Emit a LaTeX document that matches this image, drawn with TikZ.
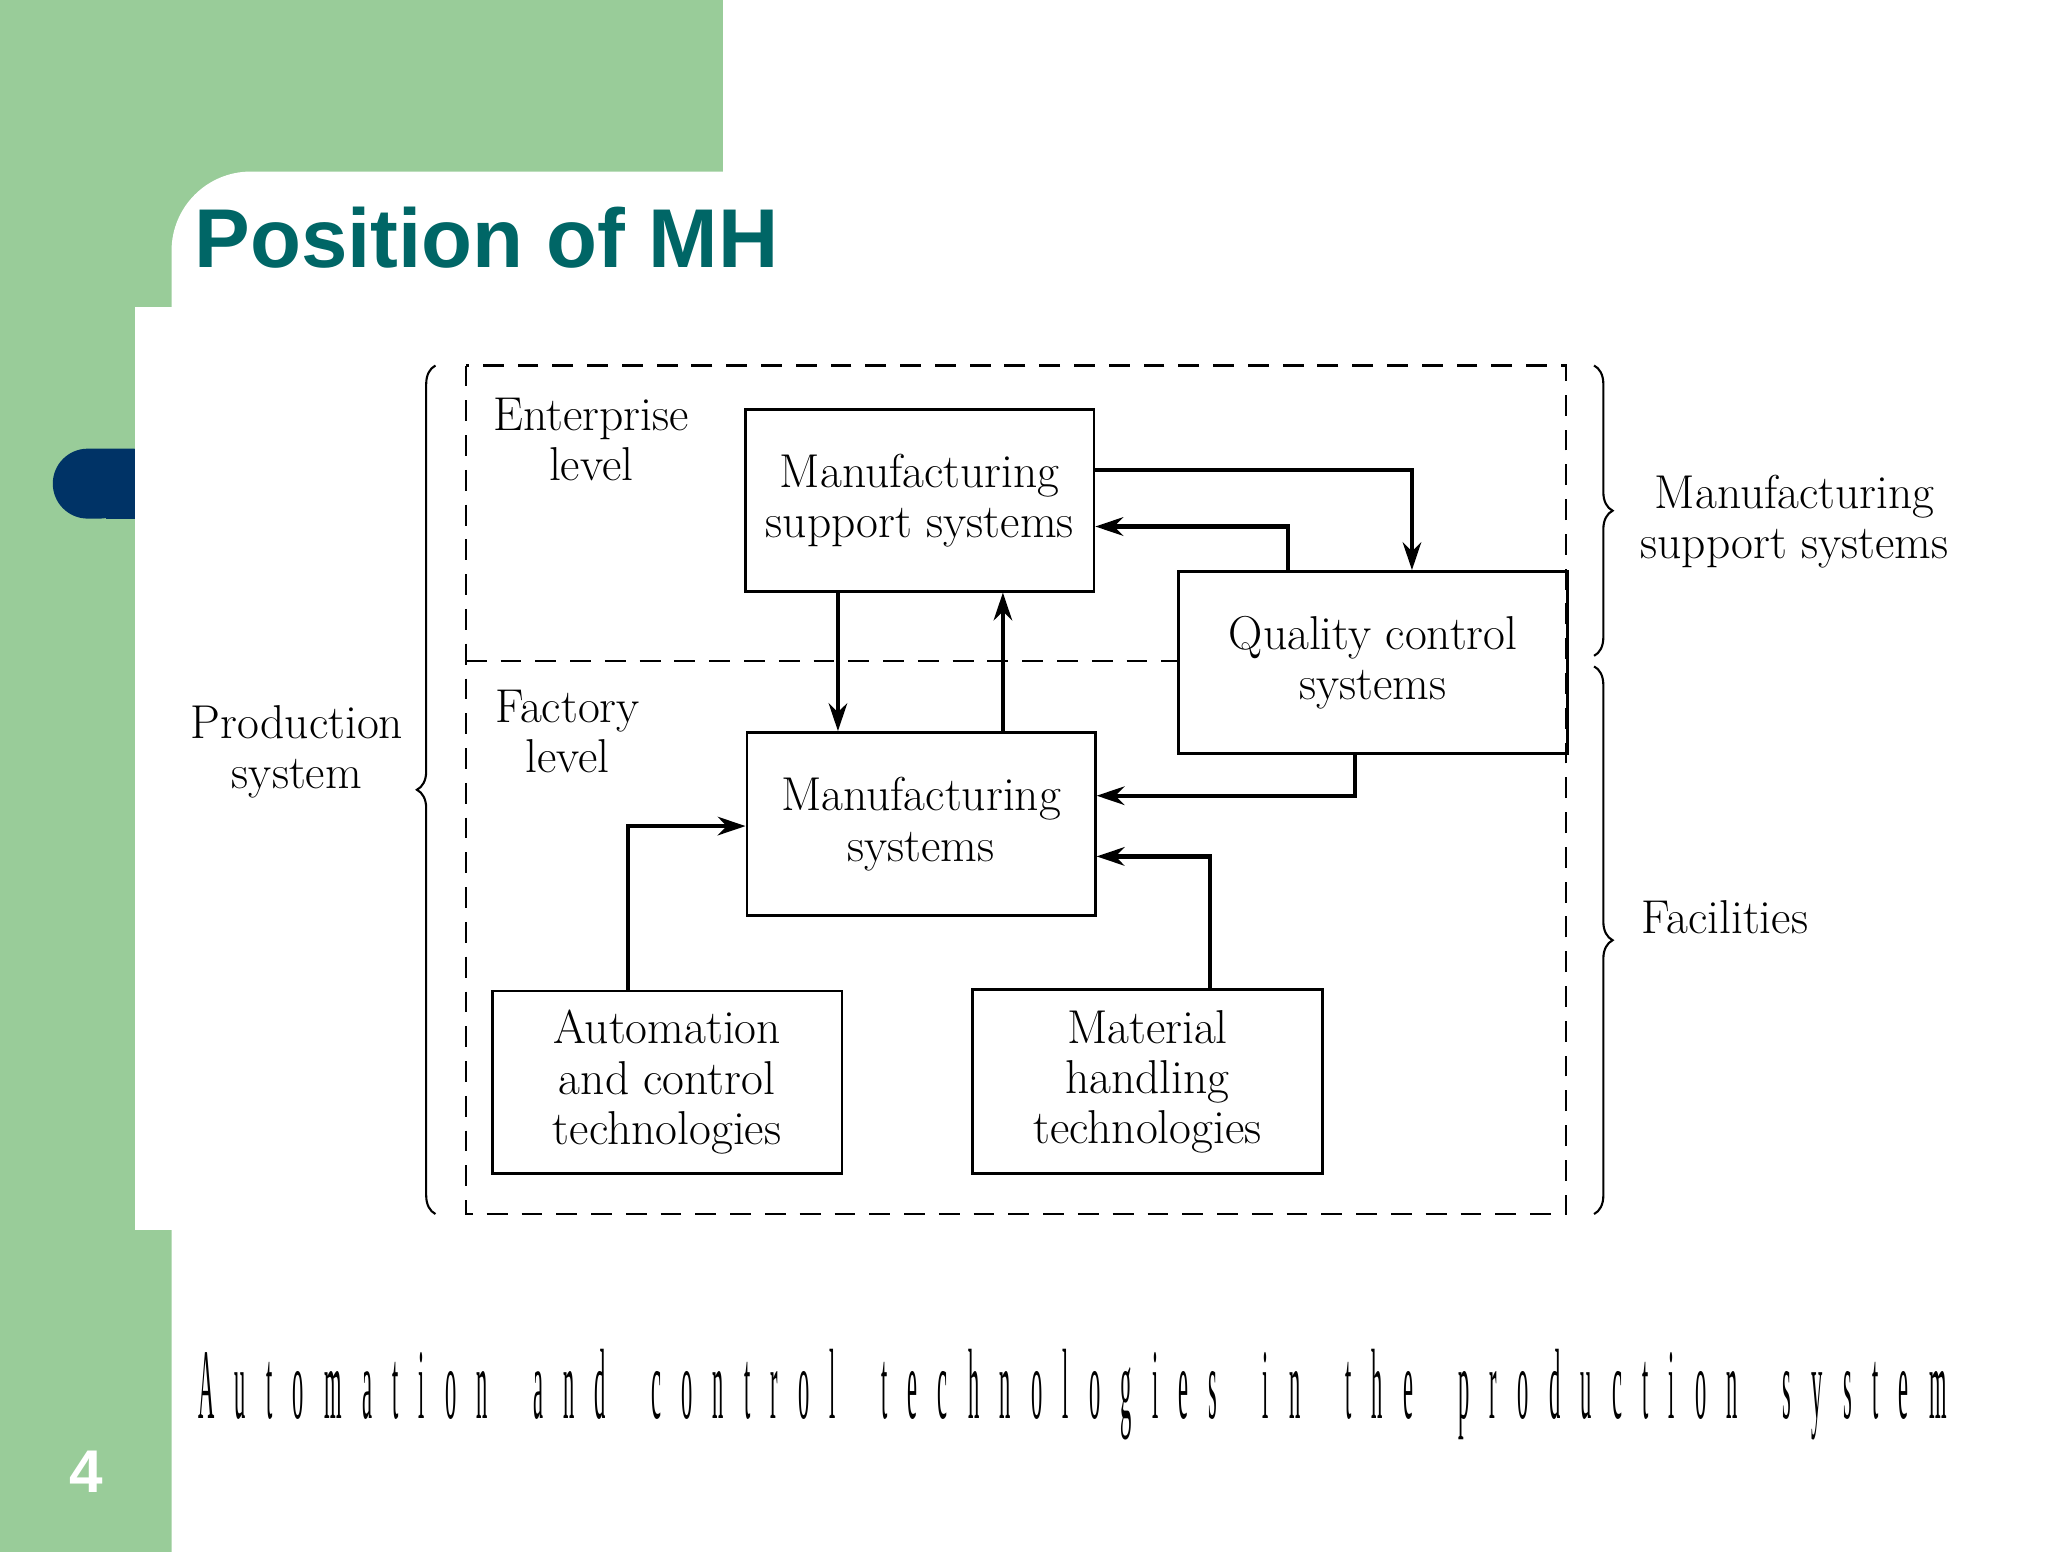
\documentclass[tikz,border=0pt]{standalone}
\usepackage{fontspec}
\setmainfont{Latin Modern Roman}
\newfontfamily\slidefont{Liberation Sans}
\newfontfamily\capfont[FakeStretch=0.5, LetterSpace=45]{Liberation Serif}
\usepackage{graphicx}
\usetikzlibrary{arrows.meta, decorations.pathreplacing, calc}
\definecolor{slide_green}{HTML}{99CC99}
\definecolor{slide_teal}{HTML}{006666}
\definecolor{slide_blue}{HTML}{003366}
\tikzset{
  block_font/.style = {font=\fontsize{20.5}{21.6}\selectfont},
  block/.style = {block_font, draw, line width=1.2pt, align=center, inner sep=0, anchor=north west},
  label_text/.style = {block_font, align=center},
  flow/.style = {line width=1.8pt, -{Stealth[length=12pt, width=8pt]}},
  frame/.style = {line width=0.9pt, dash pattern=on 9pt off 6pt},
  curly/.style = {decorate, decoration={brace, amplitude=8pt}, line width=0.9pt}
}
\begin{document}
\begin{tikzpicture}[x=0.02cm, y=-0.02cm]
  \useasboundingbox (0,0) rectangle (1552,1176);
  % Slide background
  \fill[slide_green] (0,0) rectangle (548,240);
  \fill[slide_green] (0,0) rectangle (130,1176);
  \fill[white, rounded corners=1.2cm] (130,1300) -- (130,130) -- (700,130) -- (700,1300) -- cycle;
  \fill[white] (548,0) rectangle (1552,1176);
  \fill[white] (102,233) rectangle (131,932);
  \fill[slide_blue, rounded corners=0.53cm] (102,340) -- (40,340) -- (40,393) -- (102,393)[sharp corners] -- cycle;
  \fill[slide_blue] (80,340) rectangle (102,393);
  \node[anchor=base west, text=slide_teal, font=\slidefont\bfseries\fontsize{36}{42}\selectfont, inner sep=0] (title) at (147,203) {Position of MH};
  \node[text=white, font=\slidefont\bfseries\fontsize{26}{30}\selectfont, inner sep=0] (page) at (65,1115) {4};
  \node[anchor=west, inner sep=0] (caption) at (150,1057) {\resizebox{26.5cm}{1.05cm}{\capfont Automation\quad and\quad control\quad technologies\quad in\quad the\quad production\quad system}};

  % Frames
  \draw[frame] (353,277) rectangle (1187,920);
  \draw[frame] (353,501) -- (892,501);

  % Blocks
  \node[block, minimum width=5.28cm, minimum height=2.76cm] at (564,309) (mss) {Manufacturing\\support systems};
  \node[block, minimum width=5.9cm, minimum height=2.76cm] at (892,432) (qc) {Quality control\\systems};
  \node[block, minimum width=5.28cm, minimum height=2.78cm] at (565,554) (ms) {Manufacturing\\systems};
  \node[block, minimum width=5.3cm, minimum height=2.76cm] at (372,750) (ac) {Automation\\and control\\technologies};
  \node[block, minimum width=5.3cm, minimum height=2.78cm] at (736,749) (mh) {Material\\handling\\technologies};

  % Labels
  \node[label_text] at (448,333) (ent) {Enterprise\\level};
  \node[label_text] at (430,554) (fac) {Factory\\level};
  \node[label_text] at (225,570) (prod) {Production\\system};
  \node[label_text] at (1360,395) (supp) {Manufacturing\\support systems};
  \node[label_text] at (1307,695) (faci) {Facilities};

  % Braces
  \coordinate (lb_top) at (330,277);
  \coordinate (lb_bot) at (330,920);
  \draw[curly] (lb_bot) -- (lb_top);
  \draw[curly] (1208,277) -- (1208,497);
  \draw[curly] (1208,505) -- (1208,920);

  % Arrows
  \draw[flow] (mss.east |- 0,356) -| (qc.north -| 1070,0);
  \draw[flow] (qc.north -| 976,0) |- (mss.east |- 0,399);
  \draw[flow] (mss.south -| 635,0) -- (ms.north -| 635,0);
  \draw[flow] (ms.north -| 760,0) -- (mss.south -| 760,0);
  \draw[flow] (qc.south -| 1027,0) |- (ms.east |- 0,603);
  \draw[flow] (mh.north -| 917,0) |- (ms.east |- 0,649);
  \draw[flow] (ac.north -| 476,0) |- (ms.west |- 0,626);
\end{tikzpicture}
\end{document}
